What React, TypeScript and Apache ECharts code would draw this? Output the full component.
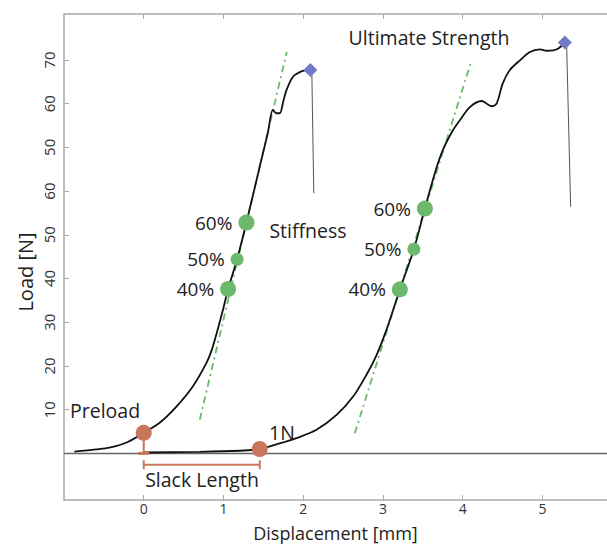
import React, { useEffect, useRef } from "react";
import * as echarts from "echarts";

// Load–displacement curves (x: mm, y: axis position units)
const curve1: number[][] = [
  [-0.87, 0.4], [-0.6, 0.9], [-0.43, 1.3], [-0.2, 2.6], [0, 4.7], [0.2, 7.0],
  [0.41, 10.7], [0.615, 15.3], [0.787, 20.7], [0.85, 23.5], [0.93, 28.5],
  [1.0, 33.3], [1.058, 37.6], [1.171, 44.4], [1.288, 52.8], [1.455, 65.6],
  [1.556, 73.3], [1.62, 78.6], [1.66, 77.8], [1.706, 77.8], [1.75, 80.5],
  [1.79, 83.1], [1.87, 86.1], [1.957, 87.2], [2.02, 87.6], [2.09, 87.7],
];
const curve1Drop: number[][] = [[2.108, 87.2], [2.133, 59.5]];

const curve2: number[][] = [
  [0, 0.2], [0.7, 0.35], [1.2, 0.6], [1.455, 1.0], [1.581, 1.6], [1.75, 2.5],
  [1.916, 3.5], [2.167, 5.4], [2.418, 8.8], [2.626, 13.0], [2.794, 18.0],
  [2.92, 22.5], [3.045, 28.3], [3.171, 35.2], [3.212, 37.5], [3.388, 46.7],
  [3.526, 56.0], [3.651, 64.1], [3.752, 69.4], [3.877, 73.9], [3.965, 76.2],
  [4.09, 79.2], [4.237, 80.6], [4.363, 79.4], [4.425, 80.0], [4.504, 84.7],
  [4.592, 87.7], [4.718, 89.9], [4.843, 91.8], [4.969, 92.4], [5.053, 92.1],
  [5.135, 92.2], [5.2, 92.6], [5.282, 94.0],
];
const curve2Drop: number[][] = [[5.304, 93.4], [5.354, 56.4]];

// Stiffness fit lines
const fit1: number[][] = [[0.703, 7.7], [1.794, 91.8]];
const fit2: number[][] = [[2.647, 4.6], [4.099, 89.2]];

// Stiffness reference points (40%, 50%, 60%)
const stiffLabels = ["40%", "50%", "60%"];
const stiff1: number[][] = [[1.058, 37.6], [1.171, 44.4], [1.288, 52.8]];
const stiff2: number[][] = [[3.212, 37.5], [3.388, 46.7], [3.526, 56.0]];

// Ultimate strength peaks
const peaks: number[][] = [[2.09, 87.7], [5.282, 94.0]];

// Preload and 1N points
const preloadPoint: number[] = [0, 4.7];
const oneNPoint: number[] = [1.455, 1.0];
const slackLevel = -2.6;

// Axis ticks
const xTicks = [0, 1, 2, 3, 4, 5];
const yTickValues = [10, 20, 30, 40, 50, 60, 70, 80, 90];
const yTickLabels = ["10", "20", "30", "40", "50", "60", "50", "60", "70"];

const FONT = "Open Sans";
const GREEN = "#6cb86c";
const ORANGE = "#c9765b";
const BLUE = "#7279c8";
const FRAME = "#a8a8a8";

export default function App() {
  const ref = useRef<HTMLDivElement>(null);
  useEffect(() => {
    if (!ref.current) return;
    const chart = echarts.init(ref.current, null, { renderer: "svg" });
    const stiffSeries = (data: number[][]) => ({
      type: "scatter",
      data: data.map((d, i) => ({ value: d, name: stiffLabels[i] })),
      symbol: "circle",
      symbolSize: (_v: any, p: any) => (p.dataIndex === 1 ? 13 : 16),
      itemStyle: { color: GREEN, opacity: 1 },
      z: 5,
      label: {
        show: true,
        position: "left",
        distance: 6,
        formatter: (p: any) => p.name,
        fontFamily: FONT,
        fontSize: 19,
        color: "#222",
        opacity: 1,
      },
    });
    chart.setOption({
      animation: false,
      backgroundColor: "#fff",
      grid: { left: 64, right: 0, top: 14, bottom: 45, outerBoundsMode: "none", containLabel: false },
      xAxis: [
        {
          type: "value",
          min: -1,
          max: 5.81,
          position: "bottom",
          name: "Displacement [mm]",
          nameLocation: "middle",
          nameGap: 23.5,
          nameMoveOverlap: false,
          nameTextStyle: { fontFamily: FONT, fontSize: 18, lineHeight: 18, color: "#222" },
          splitLine: { show: false },
          axisLine: { show: true, onZero: false, lineStyle: { color: FRAME, width: 1.5 } },
          axisTick: { show: true, inside: true, length: 5, customValues: xTicks, lineStyle: { color: FRAME } },
          axisLabel: {
            customValues: xTicks,
            margin: 1,
            fontFamily: FONT,
            fontSize: 14,
            color: "#333",
          },
        },
        {
          type: "value",
          min: -1,
          max: 5.81,
          position: "top",
          splitLine: { show: false },
          axisLine: { show: true, onZero: false, lineStyle: { color: FRAME, width: 1.5 } },
          axisTick: { show: true, inside: true, length: 5, customValues: xTicks, lineStyle: { color: FRAME } },
          axisLabel: { show: false },
        },
      ],
      yAxis: {
        type: "value",
        min: -10.66,
        max: 100.5,
        splitLine: { show: false },
        axisLine: { show: true, onZero: false, lineStyle: { color: FRAME, width: 1.5 } },
        axisTick: { show: true, inside: true, length: 5, customValues: yTickValues, lineStyle: { color: FRAME } },
        axisLabel: {
          customValues: yTickValues,
          rotate: 90,
          margin: 8,
          fontFamily: FONT,
          fontSize: 15,
          color: "#333",
          formatter: (v: number) => yTickLabels[yTickValues.indexOf(Math.round(v))] ?? "",
        },
      },
      graphic: [
        { type: "text", x: 25, y: 272, rotation: Math.PI / 2, style: { text: "Load [N]", font: `20px '${FONT}'`, fill: "#222", align: "center", verticalAlign: "middle" } },
        { type: "text", x: 429, y: 37, style: { text: "Ultimate Strength", font: `19.5px '${FONT}'`, fill: "#222", align: "center", verticalAlign: "middle" } },
        { type: "text", x: 308, y: 230, style: { text: "Stiffness", font: `19.5px '${FONT}'`, fill: "#222", align: "center", verticalAlign: "middle" } },
        { type: "text", x: 70, y: 410, style: { text: "Preload", font: `19.5px '${FONT}'`, fill: "#222", align: "left", verticalAlign: "middle" } },
        { type: "text", x: 269, y: 432, style: { text: "1N", font: `19.5px '${FONT}'`, fill: "#222", align: "left", verticalAlign: "middle" } },
        { type: "text", x: 202, y: 479, style: { text: "Slack Length", font: `19.5px '${FONT}'`, fill: "#222", align: "center", verticalAlign: "middle" } },
      ],
      series: [
        {
          type: "line",
          data: [[-1, 0], [5.81, 0]],
          symbol: "none",
          lineStyle: { color: "#666", width: 1.5 },
          z: 1,
        },
        {
          type: "line",
          data: fit1,
          symbol: "none",
          lineStyle: { color: GREEN, width: 1.8, type: [7, 4, 2, 4] },
          z: 2,
        },
        {
          type: "line",
          data: fit2,
          symbol: "none",
          lineStyle: { color: GREEN, width: 1.8, type: [7, 4, 2, 4] },
          z: 2,
        },
        {
          type: "line",
          data: curve1,
          symbol: "none",
          smooth: 0.3,
          lineStyle: { color: "#111", width: 1.8 },
          z: 3,
        },
        {
          type: "line",
          data: curve2,
          symbol: "none",
          smooth: 0.3,
          lineStyle: { color: "#111", width: 1.8 },
          z: 3,
        },
        {
          type: "line",
          data: curve1Drop,
          symbol: "none",
          lineStyle: { color: "#555", width: 1 },
          z: 3,
        },
        {
          type: "line",
          data: curve2Drop,
          symbol: "none",
          lineStyle: { color: "#555", width: 1 },
          z: 3,
        },
        {
          type: "line",
          data: [
            { value: [preloadPoint[0], 0], symbol: "rect", symbolSize: [11, 3] },
            { value: preloadPoint, symbol: "none" },
          ],
          lineStyle: { color: ORANGE, width: 2 },
          itemStyle: { color: ORANGE },
          z: 4,
        },
        {
          type: "line",
          data: [[preloadPoint[0], slackLevel], [oneNPoint[0], slackLevel]],
          symbol: "rect",
          symbolSize: [2, 9],
          lineStyle: { color: ORANGE, width: 2 },
          itemStyle: { color: ORANGE },
          z: 4,
        },
        {
          type: "scatter",
          data: [preloadPoint, oneNPoint],
          symbol: "circle",
          symbolSize: 16,
          itemStyle: { color: ORANGE, opacity: 1 },
          z: 5,
        },
        stiffSeries(stiff1),
        stiffSeries(stiff2),
        {
          type: "scatter",
          data: peaks,
          symbol: "diamond",
          symbolSize: [14, 14],
          itemStyle: { color: BLUE, opacity: 1 },
          z: 5,
        },
      ],
    });
    return () => chart.dispose();
  }, []);
  return (
    <div
      ref={ref}
      style={{ position: "absolute", left: 0, top: 0, width: 607, height: 545 }}
    />
  );
}
